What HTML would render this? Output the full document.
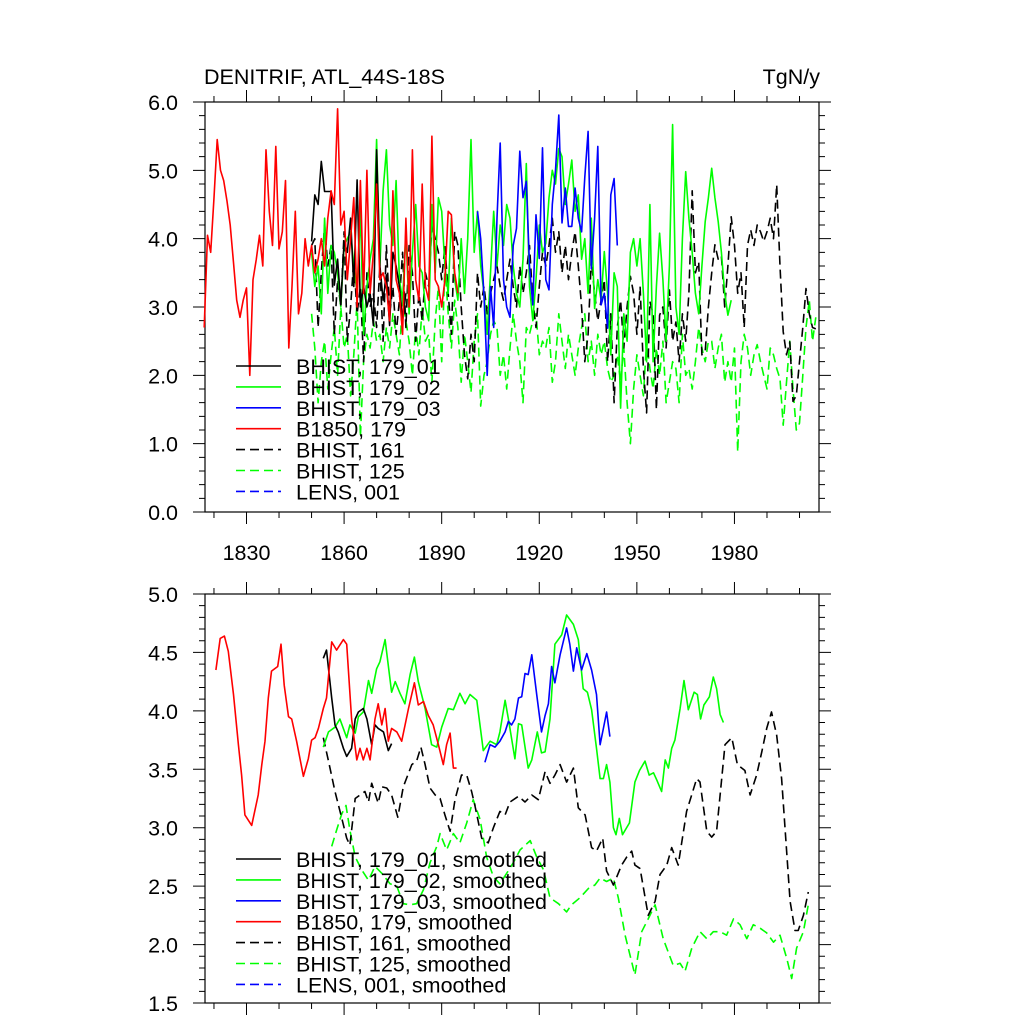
<!DOCTYPE html>
<html><head><meta charset="utf-8"><style>
html,body{margin:0;padding:0;background:#fff;}
svg{display:block;font-family:"Liberation Sans",Arial,sans-serif;}
</style></head><body>
<svg id="chart" width="1024" height="1024" viewBox="0 0 1024 1024" xmlns="http://www.w3.org/2000/svg">
<text x="204" y="84" font-size="21.5">DENITRIF, ATL_44S-18S</text>
<text x="820" y="84" font-size="21.5" text-anchor="end">TgN/y</text>
<g id="top"></g>
<g id="bot"></g>
</svg>
<script>
// ---- x-axis tick data ----
const xMajorTicks = [1830,1860,1890,1920,1950,1980];
const xMinorTicks = [1820,1840,1850,1870,1880,1900,1910,1930,1940,1960,1970,1990,2000];
const topYTicks = [0,1,2,3,4,5,6];
const topYLabels = ["0.0","1.0","2.0","3.0","4.0","5.0","6.0"];
const botYTicks = [1.5,2,2.5,3,3.5,4,4.5,5];
const botYLabels = ["1.5","2.0","2.5","3.0","3.5","4.0","4.5","5.0"];

// ---- annual series (yearly values from a start year) ----
const b1850Start = 1817;
const b1850Vals = [2.7,4.05,3.8,4.6,5.45,5.0,4.85,4.55,4.2,3.65,3.1,2.85,3.1,3.28,2.0,
3.4,3.7,4.05,3.6,5.3,4.4,3.9,5.35,3.85,4.1,4.85,2.4,3.3,4.4,2.9,3.2,4.0,3.6,
3.9,3.5,3.7,4.0,3.6,4.3,4.7,4.5,5.9,4.2,4.4,3.4,4.0,4.6,3.0,4.85,3.2,5.0,3.2,3.8,4.8,3.4,3.5,3.3,2.8,4.7,3.4,3.2,2.6,4.3,3.0,5.3,3.4,3.1,4.8,3.3,3.1,5.5,3.4,3.3,3.0,3.4,4.4,4.35,3.5,3.2];
const h01Start = 1850;
const h01Vals = [3.96,4.64,4.5,5.13,4.69,4.69,4.69,3.32,3.7,3.03,3.96,3.8,4.3,3.3,4.86,3.0,3.3,3.0,3.2,2.73,5.3,3.6,3.1,3.47,2.73,3.8,3.6,3.3,2.8,3.2];
const h02Start = 1850;
const h02Vals = [3.8,3.3,3.6,2.9,4.3,3.2,3.9,3.8,3.5,3.0,3.9,4.0,4.1,3.6,3.2,4.4,2.6,3.3,3.7,
4.0,5.45,3.6,4.7,5.3,4.2,3.9,4.85,3.4,3.1,4.1,2.9,3.8,4.5,3.6,3.5,3.0,2.8,4.5,
3.5,4.6,4.4,3.6,3.2,4.3,3.4,3.1,4.0,3.2,4.0,5.45,3.8,4.4,3.6,3.2,2.6,3.5,4.4,
3.6,4.2,3.9,4.5,4.3,3.6,3.2,3.0,3.7,5.1,3.3,2.8,3.4,4.2,3.8,3.93,4.6,5.0,
4.8,5.32,5.2,4.5,4.8,5.15,4.4,4.64,3.7,4.0,3.2,4.3,2.98,3.4,3.1,3.81,3.2,2.3,3.5,
3.3,1.52,2.9,2.5,3.8,4.0,3.6,4.0,3.2,2.2,
4.5,2.2,3.3,4.08,3.4,2.5,3.6,5.67,3.0,2.6,4.0,4.98,4.3,3.8,3.2,2.9,3.6,4.25,4.6,5.03,4.6,4.25,3.8,3.2,2.88,3.1];
const h03Start = 1901;
const h03Vals = [4.4,4.0,3.17,2.0,3.3,2.7,4.3,5.4,3.4,3.0,2.85,3.9,4.15,5.28,4.6,4.84,3.6,3.03,4.35,3.71,5.33,3.4,3.25,4.5,5.0,5.81,4.23,4.74,4.18,4.18,4.74,4.3,4.1,4.9,5.57,3.56,4.3,5.35,3.03,3.2,2.69,4.64,4.88,3.9];
const h161Start = 1850;
const h161Vals = [3.9,4.0,2.7,3.5,4.2,3.6,3.9,2.6,3.4,3.0,4.1,2.5,3.0,3.7,2.9,3.3,2.2,3.5,3.0,
3.2,2.7,3.6,2.5,3.9,2.9,3.3,2.6,3.1,3.8,2.7,3.9,3.5,2.5,3.2,2.8,3.5,3.3,4.2,
4.0,3.8,3.4,3.9,3.2,2.6,4.1,3.9,3.0,2.3,1.95,2.6,2.2,3.5,3.0,3.3,2.9,3.2,3.4,
3.6,3.3,3.1,3.4,3.7,3.3,3.0,3.6,3.2,3.5,3.9,3.1,2.7,3.3,3.8,3.6,3.9,4.3,
3.8,4.1,3.5,3.9,3.4,3.8,4.1,3.6,3.0,2.2,2.6,3.7,3.2,2.8,3.1,3.4,2.2,2.9,1.6,
2.7,3.1,2.4,3.0,3.45,3.2,2.6,3.3,2.1,1.45,3.08,2.9,1.5,2.88,3.0,2.4,3.25,2.5,2.78,
2.2,2.9,2.5,3.2,4.7,3.5,3.66,2.3,2.35,3.0,3.5,3.91,3.7,3.75,3.0,3.6,4.32,3.9,3.2,
3.5,2.7,3.9,4.13,3.9,4.2,4.1,3.96,4.1,4.3,4.0,4.79,3.6,2.64,2.3,2.49,1.62,1.7,
2.2,2.7,3.27,2.9,2.7,2.68];
const h125Start = 1850;
const h125Vals = [2.9,2.4,1.6,2.2,2.5,1.8,2.3,2.7,2.0,3.0,2.4,2.6,1.7,2.3,3.1,1.1,2.2,2.6,2.4,
2.8,2.5,2.6,2.2,2.7,2.4,2.9,2.6,2.3,3.1,2.8,2.5,2.0,2.7,2.3,3.0,2.5,2.6,1.9,
2.8,3.3,2.2,3.6,2.9,2.4,3.1,2.7,1.9,2.6,2.2,1.75,2.5,2.9,1.55,2.0,2.2,2.6,2.8,
2.7,2.0,2.3,1.8,2.4,2.9,2.5,2.2,1.6,2.7,2.6,2.8,2.9,2.3,2.5,2.4,2.7,1.9,
2.2,2.9,2.5,2.1,2.6,2.3,2.0,2.4,2.7,2.9,2.2,2.5,2.0,2.6,2.3,2.5,2.1,1.9,2.0,
2.3,1.9,2.4,1.6,1.0,1.8,2.3,2.0,1.7,2.5,2.1,1.8,2.4,2.0,2.5,1.6,1.9,2.2,2.1,
1.6,2.6,2.0,2.1,1.8,2.2,2.7,2.4,2.2,2.5,2.5,2.1,2.4,2.6,1.9,2.2,1.9,2.4,0.88,
2.2,2.6,2.4,2.0,2.3,2.45,2.2,2.0,1.8,2.4,2.3,2.1,1.95,1.27,1.9,2.5,1.8,1.2,
1.3,2.0,2.7,3.1,2.5,2.85];

// ---- smoothed series (years, values) ----
const sRedYears = [1820.6,1821.9,1823.2,1824.4,1826.0,1827.5,1828.5,1829.5,1831.6,1833.6,1834.7,1835.7,1836.7,1837.7,1839.6,1840.6,1841.6,1842.9,1843.9,1845.4,1847.5,1849.0,1850.0,1851.1,1852.1,1853.6,1854.6,1856.2,1857.7,1859.8,1860.8,1862.3,1863.9,1864.9,1865.9,1867.0,1868.0,1869.5,1870.5,1871.6,1872.6,1873.6,1874.6,1876.2,1877.7,1879.8,1881.6,1882.8,1884.4,1885.9,1887.4,1889.0,1890.5,1891.5,1892.6,1893.6,1894.6];
const sRedVals = [4.35,4.62,4.64,4.51,4.14,3.71,3.45,3.11,3.02,3.28,3.54,3.74,4.11,4.34,4.38,4.57,4.22,3.95,3.93,3.74,3.44,3.59,3.75,3.77,3.85,4.02,4.11,4.59,4.52,4.61,4.57,3.93,3.58,3.68,3.58,3.68,3.58,3.93,4.06,3.88,4.02,3.74,3.85,3.82,3.74,4.02,4.24,4.05,4.08,3.96,3.88,3.71,3.54,3.71,3.81,3.51,3.51];
const s01Years = [1853.6,1854.6,1856.2,1857.2,1858.2,1859.8,1860.8,1862.3,1863.4,1864.4,1865.9,1867.0,1868.5,1869.5,1870.5,1872.1,1873.6,1874.6];
const s01Vals = [4.45,4.52,4.11,3.88,3.82,3.68,3.61,3.68,3.93,3.99,4.02,3.93,3.71,3.88,3.85,3.82,3.66,3.72];
const s02Years = [1853.6,1855.2,1857.2,1858.7,1860.8,1861.8,1863.4,1864.4,1865.9,1867.5,1868.5,1870.0,1871.0,1872.6,1874.6,1875.7,1877.2,1878.7,1880.3,1881.6,1882.8,1884.9,1886.9,1888.5,1890.0,1892.0,1893.6,1895.6,1897.2,1898.7,1900.8,1902.8,1904.9,1906.9,1907.9,1909.5,1910.5,1912.5,1913.6,1914.6,1916.6,1917.7,1919.4,1920.7,1921.8,1923.3,1924.8,1926.9,1928.4,1930.5,1932.0,1933.5,1934.8,1936.1,1937.6,1938.7,1939.7,1940.7,1941.7,1942.8,1943.6,1944.6,1945.6,1947.7,1949.4,1950.8,1952.5,1953.8,1955.1,1956.1,1957.6,1958.7,1959.7,1960.7,1961.7,1963.3,1964.5,1965.8,1967.6,1968.6,1969.6,1970.6,1972.3,1973.5,1974.5,1975.6,1976.6];
const s02Vals = [3.69,3.82,3.86,3.93,3.77,3.88,3.81,3.95,3.99,4.26,4.15,4.36,4.42,4.61,4.16,4.25,4.15,4.06,4.31,4.46,4.25,4.02,3.71,3.69,3.86,4.02,4.01,4.15,4.06,4.14,4.09,3.66,3.74,3.71,3.82,4.09,3.93,3.59,3.89,3.88,3.51,3.58,3.82,3.64,3.65,3.93,4.57,4.65,4.82,4.74,4.61,4.19,4.16,4.01,3.68,3.42,3.42,3.54,3.39,3.00,2.94,3.08,2.94,3.04,3.39,3.49,3.57,3.45,3.47,3.41,3.31,3.58,3.51,3.68,3.75,4.02,4.26,4.01,4.16,4.14,3.93,4.05,4.12,4.29,4.19,3.97,3.90];
const s03Years = [1903.3,1904.9,1906.4,1907.9,1909.5,1910.5,1911.5,1912.5,1913.6,1914.6,1915.6,1916.6,1917.7,1919.2,1920.7,1921.8,1922.8,1923.8,1924.8,1926.4,1928.4,1929.4,1930.5,1931.5,1933.0,1934.6,1936.1,1937.6,1938.7,1939.7,1940.7,1941.7];
const s03Vals = [3.56,3.71,3.69,3.74,3.82,3.91,3.88,3.93,4.11,4.12,4.32,4.31,4.48,4.14,3.82,3.96,4.06,4.38,4.24,4.48,4.71,4.57,4.34,4.54,4.35,4.49,4.35,4.14,3.71,3.85,3.99,3.78];
const s161Years = [1853.6,1855.2,1857.2,1859.3,1860.8,1861.8,1863.4,1864.9,1866.4,1867.5,1868.5,1870.5,1871.6,1873.1,1874.6,1876.5,1878.2,1880.8,1882.3,1883.6,1884.9,1886.4,1888.0,1889.5,1891.0,1892.6,1894.1,1896.1,1897.7,1899.2,1900.2,1902.3,1904.3,1905.9,1907.9,1909.5,1911.0,1913.6,1915.6,1917.7,1919.7,1921.8,1923.3,1924.8,1926.4,1928.4,1930.5,1932.0,1934.1,1936.1,1937.6,1939.5,1940.7,1942.8,1945.3,1946.9,1948.4,1949.4,1951.0,1953.5,1955.6,1957.1,1959.2,1960.7,1962.7,1965.3,1968.4,1969.4,1971.5,1973.0,1974.5,1977.1,1979.2,1980.9,1983.2,1984.8,1986.8,1988.4,1989.9,1991.4,1993.0,1994.5,1997.1,1998.6,1999.6,2001.2,2002.7];
const s161Vals = [3.77,3.57,3.31,3.08,2.91,2.85,3.25,3.28,3.31,3.22,3.38,3.21,3.35,3.34,3.28,3.09,3.35,3.54,3.57,3.69,3.54,3.34,3.28,3.25,3.11,2.97,3.24,3.45,3.45,3.31,3.19,2.91,2.87,3.00,3.14,3.11,3.22,3.27,3.22,3.28,3.24,3.48,3.38,3.45,3.54,3.39,3.51,3.17,3.11,2.83,2.80,2.91,2.63,2.51,2.68,2.75,2.80,2.68,2.65,2.25,2.37,2.60,2.68,2.83,2.68,3.14,3.42,3.39,2.97,2.92,2.97,3.71,3.77,3.54,3.49,3.28,3.45,3.65,3.85,3.99,3.79,3.42,2.37,2.12,2.12,2.25,2.45];
const s125Years = [1856.2,1857.7,1859.3,1860.6,1861.8,1863.4,1865.4,1867.5,1869.5,1871.6,1874.1,1876.2,1878.2,1880.3,1882.3,1884.4,1886.4,1888.5,1889.5,1891.5,1893.6,1895.6,1897.7,1899.7,1901.8,1903.8,1905.9,1907.9,1910.0,1912.0,1914.1,1917.2,1919.2,1921.3,1923.3,1925.9,1928.4,1929.9,1932.5,1935.1,1937.1,1938.7,1940.7,1942.8,1944.3,1946.4,1949.4,1951.5,1953.5,1955.6,1958.1,1961.2,1963.3,1964.8,1966.9,1969.4,1971.5,1973.5,1975.6,1977.6,1979.7,1981.7,1983.8,1985.8,1987.9,1989.9,1992.0,1994.0,1996.1,1997.6,1999.1,2001.2,2002.7];
const s125Vals = [2.84,2.98,3.12,3.19,2.98,2.75,2.64,2.55,2.67,2.61,2.52,2.50,2.35,2.34,2.35,2.47,2.70,2.84,2.95,2.81,2.95,2.87,3.04,3.24,3.07,2.75,2.58,2.52,2.61,2.70,2.81,2.89,2.75,2.64,2.40,2.35,2.28,2.34,2.40,2.48,2.51,2.57,2.54,2.57,2.40,2.08,1.74,2.11,2.22,2.34,2.05,1.82,1.84,1.77,1.97,2.11,2.05,2.11,2.11,2.08,2.22,2.17,2.05,2.17,2.14,2.10,2.02,2.08,1.88,1.71,1.97,2.11,2.34];

const NS = "http://www.w3.org/2000/svg";
const X0 = 205, X1 = 819;
const FS = 21.5;
function xs(yr){ return 246.5 + (yr - 1830) * 3.253; }
function mk(tag, attrs, parent){ const e = document.createElementNS(NS, tag); for (const k in attrs) e.setAttribute(k, attrs[k]); parent.appendChild(e); return e; }

function panel(g, top, bot, ymin, ymax, yTicks, yLabels, minorStep, showX){
  const ys = v => bot - (v - ymin) / (ymax - ymin) * (bot - top);
  const frame = mk('rect', {x:X0, y:top, width:X1-X0, height:bot-top, fill:'none', stroke:'#000', 'stroke-width':1.2}, g);
  
  
  let d = '';
  for (const t of xMajorTicks){ const x = xs(t); d += `M${x} ${bot}v12M${x} ${top}v-12`; }
  for (const t of xMinorTicks){ const x = xs(t); if (x < X0 || x > X1) continue; d += `M${x} ${bot}v6M${x} ${top}v-6`; }
  for (const t of yTicks){ const y = ys(t); d += `M${X0} ${y}h-12M${X1} ${y}h12`; }
  const n = Math.round((ymax - ymin) / minorStep);
  for (let i = 0; i <= n; i++){ const y = ys(ymin + i * minorStep); d += `M${X0} ${y}h-6M${X1} ${y}h6`; }
  const ticks = mk('path', {d:d, stroke:'#000', 'stroke-width':1, fill:'none'}, g);
  
  
  yTicks.forEach((t, i) => {
    const tx = mk('text', {x:178, y:ys(t) + 8, 'font-size':FS, 'text-anchor':'end'}, g);
    tx.textContent = yLabels[i];
    
    
  });
  if (showX){
    xMajorTicks.forEach(t => {
      const tx = mk('text', {x:xs(t), y:560, 'font-size':FS, 'text-anchor':'middle'}, g);
      tx.textContent = String(t);
      
      
    });
  }
  return ys;
}

function drawLine(g, ys, years, vals, color, dashed, name){
  const pts = vals.map((v, i) => xs(years[i]).toFixed(1) + ',' + ys(v).toFixed(1)).join(' ');
  const p = mk('polyline', {points:pts, fill:'none', stroke:color, 'stroke-width':1.6, 'stroke-linejoin':'round'}, g);
  if (dashed) p.setAttribute('stroke-dasharray', '9 5');
  
  
}
function yearsFrom(start, n){ const a = []; for (let i = 0; i < n; i++) a.push(start + i); return a; }

function legend(g, y0, entries){
  entries.forEach((e, i) => {
    const y = y0 + i * 20.9;
    const ln = mk('line', {x1:236, x2:281, y1:y, y2:y, stroke:e[1], 'stroke-width':1.6}, g);
    if (e[2]) ln.setAttribute('stroke-dasharray', '9 5');
    
    
    const t = mk('text', {x:296, y:y + 8, 'font-size':FS}, g);
    t.textContent = e[0];
    
    
  });
}

const gt = document.getElementById('top');
const yt = panel(gt, 102, 512, 0, 6, topYTicks, topYLabels, 0.2, true);
drawLine(gt, yt, yearsFrom(h125Start, h125Vals.length), h125Vals, '#00ff00', true, 'line-bhist-125');
drawLine(gt, yt, yearsFrom(h161Start, h161Vals.length), h161Vals, '#000', true, 'line-bhist-161');
drawLine(gt, yt, yearsFrom(h02Start, h02Vals.length), h02Vals, '#00ff00', false, 'line-bhist-179-02');
drawLine(gt, yt, yearsFrom(h01Start, h01Vals.length), h01Vals, '#000', false, 'line-bhist-179-01');
drawLine(gt, yt, yearsFrom(b1850Start, b1850Vals.length), b1850Vals, '#ff0000', false, 'line-b1850-179');
drawLine(gt, yt, yearsFrom(h03Start, h03Vals.length), h03Vals, '#0000ff', false, 'line-bhist-179-03');
legend(gt, 366, [["BHIST, 179_01","#000",false],["BHIST, 179_02","#00ff00",false],["BHIST, 179_03","#0000ff",false],["B1850, 179","#ff0000",false],["BHIST, 161","#000",true],["BHIST, 125","#00ff00",true],["LENS, 001","#0000ff",true]]);

const gb = document.getElementById('bot');
const yb = panel(gb, 594, 1003, 1.5, 5.0, botYTicks, botYLabels, 0.1, false);
drawLine(gb, yb, s125Years, s125Vals, '#00ff00', true, 'line-bhist-125-smoothed');
drawLine(gb, yb, s161Years, s161Vals, '#000', true, 'line-bhist-161-smoothed');
drawLine(gb, yb, s02Years, s02Vals, '#00ff00', false, 'line-bhist-179-02-smoothed');
drawLine(gb, yb, s01Years, s01Vals, '#000', false, 'line-bhist-179-01-smoothed');
drawLine(gb, yb, sRedYears, sRedVals, '#ff0000', false, 'line-b1850-179-smoothed');
drawLine(gb, yb, s03Years, s03Vals, '#0000ff', false, 'line-bhist-179-03-smoothed');
legend(gb, 859, [["BHIST, 179_01, smoothed","#000",false],["BHIST, 179_02, smoothed","#00ff00",false],["BHIST, 179_03, smoothed","#0000ff",false],["B1850, 179, smoothed","#ff0000",false],["BHIST, 161, smoothed","#000",true],["BHIST, 125, smoothed","#00ff00",true],["LENS, 001, smoothed","#0000ff",true]]);
</script>
</body></html>
